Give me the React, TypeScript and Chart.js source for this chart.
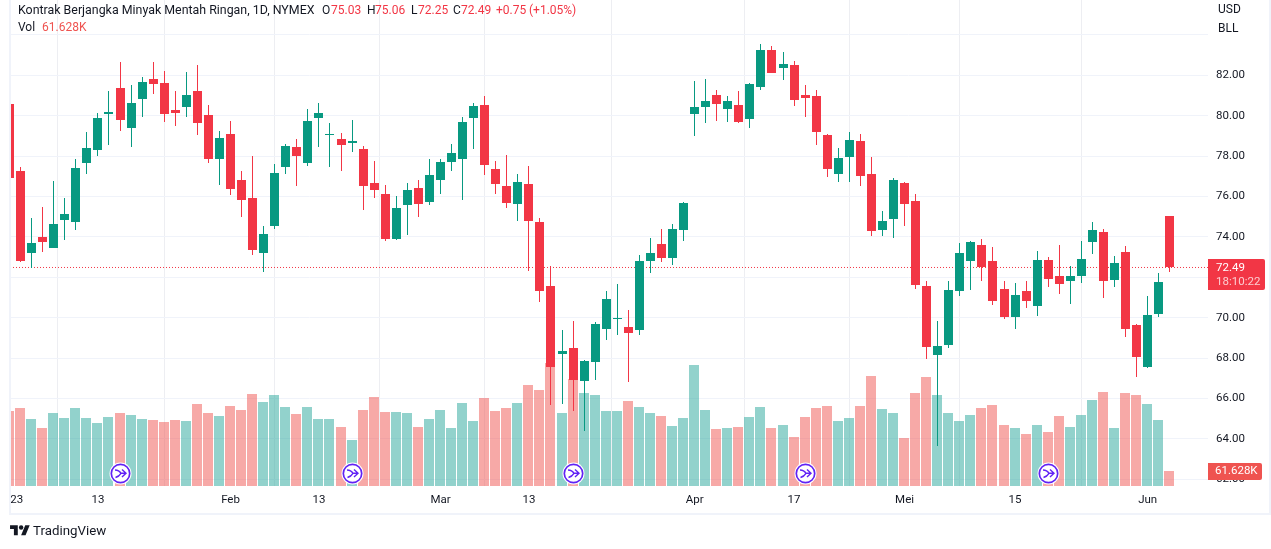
import { useEffect, useRef } from "react";
import { Chart, registerables } from "chart.js";

Chart.register(...registerables);

const FONT = "Roboto, sans-serif";
const UP = "#089981";
const DOWN = "#F23645";
const UP_VOL = "rgba(38,166,154,0.5)";
const DOWN_VOL = "rgba(239,83,80,0.5)";
const GRID = "#F0F3FA";
const GRID_V = "#EDEEF2";
const TEXT = "#131722";

// first visible session is cut by the left edge of the pane
const firstIndex = -1;
const xMin = -0.9575;
const xMax = 107.459;

const opens = [
  80.58, 77.26, 73.2, 74.0, 73.45, 74.84, 74.74, 77.66, 78.3, 80.09, 81.37,
  79.39, 80.83, 81.82, 81.62, 80.28, 80.43, 81.22, 80.04, 77.86, 79.1,
  76.82, 75.93, 73.2, 74.54, 77.46, 78.45, 77.66, 79.89, 79.05, 78.85,
  78.65, 78.35, 76.67, 76.13, 73.9, 75.58, 76.42, 75.73, 76.82, 77.71,
  77.86, 79.89, 80.53, 77.36, 76.52, 75.63, 76.62, 74.74, 71.55, 68.19,
  68.49, 66.85, 67.79, 69.43, 69.92, 69.52, 69.38, 72.81, 73.65, 72.96,
  74.34, 80.09, 80.43, 81.03, 80.33, 80.53, 79.84, 81.42, 83.25, 82.36,
  82.51, 81.03, 80.98, 79.05, 77.12, 77.96, 78.75, 77.12, 74.34, 74.89,
  76.67, 75.78, 71.55, 68.14, 68.63, 71.31, 72.81, 73.6, 72.81, 71.41,
  70.02, 71.31, 70.56, 72.86, 72.07, 71.8, 72.07, 73.75, 74.24, 71.85,
  73.25, 69.62, 67.54, 70.17, 75.03,
];
const highs = [
  80.58, 77.45, 74.92, 75.47, 76.75, 75.91, 77.84, 79.19, 80.12, 81.22, 82.66,
  81.52, 81.92, 82.66, 82.21, 81.22, 82.17, 82.51, 80.53, 79.24, 79.74,
  77.26, 78.01, 74.54, 77.61, 78.6, 78.85, 80.33, 80.63, 79.64, 79.15,
  79.79, 78.5, 77.76, 76.57, 76.03, 76.67, 76.82, 77.86, 77.86, 78.6,
  79.94, 80.63, 80.98, 77.76, 78.06, 77.12, 77.51, 74.94, 72.56, 69.38,
  69.82, 67.89, 69.77, 71.31, 71.65, 70.37, 73.11, 73.95, 74.39, 74.64,
  75.73, 81.72, 81.82, 81.27, 80.98, 81.22, 81.62, 83.55, 83.45, 83.16,
  82.71, 81.52, 81.27, 79.1, 78.4, 79.19, 79.1, 77.96, 75.28, 76.92,
  76.72, 76.13, 71.8, 69.82, 71.8, 73.7, 73.8, 73.9, 73.5, 71.8,
  71.7, 71.8, 73.3, 73.01, 73.6, 72.56, 73.8, 74.74, 74.39, 73.06,
  73.55, 69.67, 71.06, 72.21, 75.06,
];
const lows = [
  76.92, 72.76, 72.48, 73.25, 73.45, 73.85, 74.34, 77.12, 78.0, 78.55, 79.24,
  78.45, 79.94, 81.08, 79.69, 79.49, 79.94, 79.05, 77.66, 76.57, 76.08,
  74.99, 73.11, 72.26, 74.39, 77.12, 76.52, 77.51, 78.45, 77.46, 77.26,
  78.2, 75.33, 75.93, 73.8, 73.85, 74.1, 74.99, 75.58, 76.13, 77.26,
  75.83, 78.35, 77.07, 76.13, 75.43, 74.79, 72.31, 70.76, 65.66, 65.71,
  65.37, 64.38, 66.9, 68.88, 69.13, 66.8, 69.13, 72.21, 72.76, 72.61,
  73.8, 79.0, 79.64, 79.74, 79.69, 79.64, 79.39, 81.27, 82.12, 81.77,
  80.48, 79.94, 78.55, 76.97, 76.72, 76.72, 76.52, 74.05, 74.05, 73.95,
  74.54, 71.41, 67.94, 63.63, 68.49, 71.06, 71.36, 71.8, 70.61, 69.92,
  69.43, 70.47, 70.07, 71.5, 71.2, 70.66, 71.7, 73.15, 70.96, 71.5,
  69.03, 67.05, 67.49, 70.02, 72.25,
];
const closes = [
  76.92, 72.81, 73.7, 73.75, 74.64, 75.14, 77.41, 78.4, 79.89, 80.18, 79.79,
  80.63, 81.67, 81.57, 80.09, 80.14, 81.03, 79.64, 77.86, 78.9, 76.37,
  75.83, 73.35, 74.15, 77.17, 78.5, 78.01, 79.74, 80.14, 79.1, 78.55,
  78.75, 76.52, 76.32, 73.9, 75.43, 76.32, 75.63, 77.07, 77.71, 78.16,
  79.69, 80.48, 77.56, 76.62, 75.68, 76.72, 74.79, 71.31, 67.54, 68.34,
  66.9, 67.84, 69.67, 70.91, 69.97, 69.23, 72.81, 73.2, 72.96, 74.39,
  75.68, 80.43, 80.73, 80.58, 80.73, 79.69, 81.57, 83.25, 82.12, 82.56,
  80.78, 80.88, 79.19, 77.36, 77.91, 78.8, 77.02, 74.29, 74.79, 76.82,
  75.63, 71.6, 68.53, 68.58, 71.36, 73.2, 73.75, 72.51, 70.81, 70.02,
  71.11, 70.81, 72.86, 71.9, 71.65, 72.07, 72.91, 74.34, 71.8, 72.71,
  69.43, 68.04, 70.12, 71.75, 72.49,
];
// volume in thousands of contracts
const volumes = [
  308, 321, 275, 238, 300, 279, 321, 279, 259, 284, 300,
  292, 275, 271, 263, 271, 267, 337, 300, 288, 329,
  312, 378, 345, 374, 325, 296, 325, 275, 275, 242,
  189, 312, 366, 304, 304, 300, 242, 275, 312, 238,
  341, 267, 362, 308, 321, 341, 415, 395, 506, 300,
  440, 382, 374, 308, 308, 349, 325, 300, 288, 247,
  279, 497, 312, 234, 238, 242, 284, 325, 238, 251,
  201, 284, 321, 329, 267, 279, 329, 452, 316, 300,
  197, 382, 448, 374, 300, 267, 292, 321, 333, 251,
  238, 214, 251, 222, 288, 242, 292, 353, 386, 238,
  382, 374, 337, 271, 61.628,
];

const priceTicks = [84, 82, 80, 78, 76, 74, 72, 70, 68, 66, 64, 62];
const timeTicks = [-0.35, 7, 19, 27, 38, 46, 61, 70, 80, 90, 102];
const timeLabels = ["23", "13", "Feb", "13", "Mar", "13", "Apr", "17", "Mei", "15", "Jun"];
const rollovers = [9, 30, 50, 71, 93];

const lastClose = 72.49;
const lastVolume = 61.628;
const countdown = "18:10:22";

const xs = opens.map((_, i) => i + firstIndex);
const isUp = opens.map((o, i) => closes[i] >= o);

// keeps bars on whole pixels so that wicks stay one pixel wide and sharp
const snapBars = {
  id: "snapBars",
  beforeDatasetsDraw(chart: any) {
    chart.getSortedVisibleDatasetMetas().forEach((meta: any) => {
      if (meta.type !== "bar") return;
      meta.data.forEach((bar: any) => {
        bar.x = bar.width % 2 === 1 ? Math.floor(bar.x) + 0.5 : Math.floor(bar.x);
        bar.y = Math.round(bar.y);
        bar.base = Math.round(bar.base);
        if (bar.y === bar.base) bar.base += 1;
      });
    });
  },
};

const rolloverIcons = {
  id: "rolloverIcons",
  afterDatasetsDraw(chart: any) {
    const { ctx, chartArea } = chart;
    const cy = chartArea.bottom - 12.5;
    rollovers.forEach((i) => {
      const cx = Math.floor(chart.scales.x.getPixelForValue(i)) + 0.5;
      ctx.save();
      ctx.fillStyle = "#fff";
      ctx.beginPath();
      ctx.arc(cx, cy, 11, 0, Math.PI * 2);
      ctx.fill();
      ctx.strokeStyle = "#6122F5";
      ctx.lineWidth = 1.7;
      ctx.beginPath();
      ctx.arc(cx, cy, 9.2, 0, Math.PI * 2);
      ctx.stroke();
      ctx.lineWidth = 1.4;
      ctx.beginPath();
      ctx.moveTo(cx - 5.5, cy - 3.5);
      ctx.quadraticCurveTo(cx - 1.5, cy - 3.5, cx + 0.5, cy - 0.2);
      ctx.lineTo(cx + 5.5, cy - 0.2);
      ctx.moveTo(cx - 5, cy + 4);
      ctx.quadraticCurveTo(cx - 1.5, cy + 3, cx + 0.5, cy - 0.2);
      ctx.moveTo(cx + 1.5, cy - 4);
      ctx.lineTo(cx + 5.5, cy - 0.2);
      ctx.lineTo(cx + 1.5, cy + 3.6);
      ctx.stroke();
      ctx.restore();
    });
  },
};

const priceLabels = {
  id: "priceLabels",
  afterDraw(chart: any) {
    const { ctx, chartArea, scales } = chart;
    const left = chartArea.right;
    const py = scales.y.getPixelForValue(lastClose);
    const vy = scales.volume.getPixelForValue(lastVolume);
    ctx.save();
    ctx.textBaseline = "middle";
    ctx.textAlign = "left";
    ctx.font = `11.5px ${FONT}`;

    ctx.fillStyle = DOWN;
    ctx.beginPath();
    ctx.roundRect(left, py - 8.5, 57, 31, [0, 2, 2, 0]);
    ctx.fill();
    ctx.fillStyle = "#fff";
    ctx.fillText(lastClose.toFixed(2), left + 8, py + 0.5);
    ctx.fillStyle = "rgba(255,255,255,0.75)";
    ctx.fillText(countdown, left + 8, py + 14.5);

    ctx.fillStyle = "#EF5350";
    ctx.beginPath();
    ctx.roundRect(left, vy - 8, 54, 17, [0, 2, 2, 0]);
    ctx.fill();
    ctx.fillStyle = "#fff";
    ctx.fillText(`${lastVolume.toFixed(3)}K`, left + 7, vy + 0.5);
    ctx.restore();
  },
};

export default function App() {
  const canvasRef = useRef<HTMLCanvasElement>(null);

  useEffect(() => {
    if (!canvasRef.current) return;

    const chart = new Chart(canvasRef.current, {
      type: "bar",
      data: {
        datasets: [
          {
            type: "bar",
            yAxisID: "volume",
            order: 4,
            grouped: false,
            barThickness: 10,
            inflateAmount: 0,
            data: volumes.map((v, i) => ({ x: xs[i], y: v })),
            backgroundColor: isUp.map((up) => (up ? UP_VOL : DOWN_VOL)),
          },
          {
            type: "line",
            yAxisID: "y",
            order: 3,
            data: [
              { x: xMin, y: lastClose },
              { x: xMax, y: lastClose },
            ],
            borderColor: DOWN,
            borderWidth: 1,
            borderDash: [1, 2],
            pointRadius: 0,
          },
          {
            type: "bar",
            yAxisID: "y",
            order: 2,
            grouped: false,
            barThickness: 1,
            inflateAmount: 0,
            data: lows.map((l, i) => ({ x: xs[i], y: [l, highs[i]] })),
            backgroundColor: isUp.map((up) => (up ? UP : DOWN)),
          },
          {
            type: "bar",
            yAxisID: "y",
            order: 1,
            grouped: false,
            barThickness: 9,
            inflateAmount: 0,
            data: opens.map((o, i) => ({ x: xs[i], y: [o, closes[i]] })),
            backgroundColor: isUp.map((up) => (up ? UP : DOWN)),
          },
        ],
      } as any,
      options: {
        responsive: false,
        animation: false,
        events: [],
        layout: { padding: { left: 10, top: 0, right: 0, bottom: 0 } },
        plugins: {
          legend: { display: false },
          tooltip: { enabled: false },
        },
        scales: {
          x: {
            type: "linear",
            position: "bottom",
            offset: false,
            min: xMin,
            max: xMax,
            afterBuildTicks: (scale: any) => {
              scale.ticks = timeTicks.map((value) => ({ value }));
            },
            afterFit: (scale: any) => {
              scale.height = 63;
              scale.paddingLeft = 0;
              scale.paddingRight = 0;
            },
            border: { display: false },
            grid: {
              drawTicks: false,
              color: (ctx: any) =>
                ctx.tick && ctx.tick.value === timeTicks[0] ? "transparent" : GRID_V,
            },
            ticks: {
              autoSkip: false,
              maxRotation: 0,
              padding: 7,
              color: TEXT,
              font: { family: FONT, size: 11.5 },
              callback: (value: any) => timeLabels[timeTicks.indexOf(value)],
            },
          },
          y: {
            type: "linear",
            position: "right",
            min: 61.673,
            max: 85.73,
            afterBuildTicks: (scale: any) => {
              scale.ticks = priceTicks.map((value) => ({ value }));
            },
            afterFit: (scale: any) => {
              scale.width = 63;
              scale.paddingTop = 0;
              scale.paddingBottom = 0;
            },
            border: { display: false },
            grid: { drawTicks: false, color: GRID },
            ticks: {
              padding: 8,
              color: TEXT,
              font: { family: FONT, size: 11.5 },
              callback: (value: any) => Number(value).toFixed(2),
            },
          },
          volume: {
            type: "linear",
            display: false,
            min: 0,
            max: 1997,
          },
        },
      },
      plugins: [snapBars, rolloverIcons, priceLabels],
    } as any);

    return () => chart.destroy();
  }, []);

  const label = { position: "absolute", whiteSpace: "nowrap", lineHeight: "14px" } as const;
  const down = { ...label, color: DOWN };

  return (
    <div
      style={{
        position: "fixed",
        left: 0,
        top: 0,
        width: 1271,
        height: 549,
        overflow: "hidden",
        background: "#fff",
        fontFamily: FONT,
        fontSize: 12,
        color: TEXT,
      }}
    >
      <canvas ref={canvasRef} width={1271} height={549} style={{ display: "block" }} />

      {/* pane frame */}
      <div
        style={{
          position: "absolute",
          left: 9,
          top: -2,
          width: 1262,
          height: 517,
          boxSizing: "border-box",
          border: `2px solid ${GRID}`,
        }}
      />

      {/* legend */}
      <span style={{ ...label, left: 18, top: 3, fontSize: 12.4 }}>
        Kontrak Berjangka Minyak Mentah Ringan, 1D, NYMEX
      </span>
      <span style={{ ...label, left: 322, top: 3 }}>O</span>
      <span style={{ ...down, left: 331, top: 3 }}>75.03</span>
      <span style={{ ...label, left: 367, top: 3 }}>H</span>
      <span style={{ ...down, left: 375, top: 3 }}>75.06</span>
      <span style={{ ...label, left: 411, top: 3 }}>L</span>
      <span style={{ ...down, left: 418, top: 3 }}>72.25</span>
      <span style={{ ...label, left: 453, top: 3 }}>C</span>
      <span style={{ ...down, left: 461, top: 3 }}>72.49</span>
      <span style={{ ...down, left: 496, top: 3 }}>+0.75</span>
      <span style={{ ...down, left: 529, top: 3 }}>(+1.05%)</span>
      <span style={{ ...label, left: 18, top: 20 }}>Vol</span>
      <span style={{ ...label, left: 42, top: 20, color: "#EF5350" }}>61.628K</span>

      {/* currency and unit buttons sit over the top of the price scale */}
      <div
        style={{
          position: "absolute",
          left: 1209,
          top: 0,
          width: 58,
          height: 38,
          background: "#fff",
        }}
      />
      <span style={{ ...label, left: 1218, top: 2 }}>USD</span>
      <span style={{ ...label, left: 1218, top: 21 }}>BLL</span>

      {/* attribution */}
      <svg
        viewBox="0 0 36 28"
        width={20}
        height={15.5}
        style={{ position: "absolute", left: 9.5, top: 523 }}
      >
        <path d="M14 22H7V11H0V4h14v18zM28 22h-8l7.5-18h8L28 22z" fill={TEXT} />
        <circle cx="20" cy="8" r="4" fill={TEXT} />
      </svg>
      <span style={{ ...label, left: 33, top: 524, fontSize: 13.3 }}>TradingView</span>
    </div>
  );
}
